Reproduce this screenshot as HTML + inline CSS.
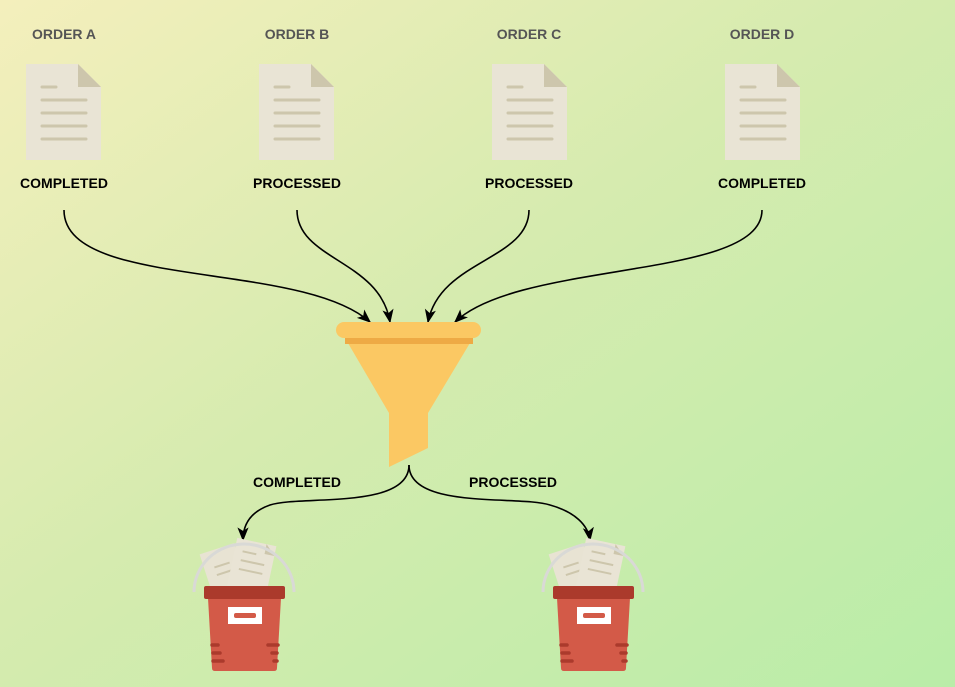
<!DOCTYPE html>
<html><head><meta charset="utf-8"><style>
html,body{margin:0;padding:0;width:955px;height:687px;overflow:hidden}
svg{display:block}
.t{font-family:"Comic Sans MS","Liberation Sans",sans-serif;font-weight:bold;font-size:14px;text-anchor:middle}
.g{fill:#555}
.k{fill:#000}
</style></head><body>
<svg width="955" height="687" viewBox="0 0 955 687" xmlns="http://www.w3.org/2000/svg">
<defs>
<linearGradient id="bg" x1="0" y1="0" x2="1" y2="1">
<stop offset="0" stop-color="#f4efbc"/>
<stop offset="0.45" stop-color="#d6ebaf"/>
<stop offset="1" stop-color="#b9eda8"/>
</linearGradient>
<marker id="ar" viewBox="0 0 10 10" refX="9" refY="5" markerWidth="14" markerHeight="14" orient="auto-start-reverse" markerUnits="userSpaceOnUse">
<path d="M0,1 L10,5 L0,9 L2.5,5 z" fill="#000"/>
</marker>
<g id="doc">
<path d="M0,0 H52 L75,23 V96 H0 z" fill="#e9e4d5"/>
<path d="M52,0 L75,23 H52 z" fill="#cdc6ac"/>
<g stroke="#cdc6ac" stroke-width="3" stroke-linecap="round">
<line x1="16" y1="23" x2="30" y2="23"/>
<line x1="16" y1="36" x2="60" y2="36"/>
<line x1="16" y1="49" x2="60" y2="49"/>
<line x1="16" y1="62" x2="60" y2="62"/>
<line x1="16" y1="75" x2="60" y2="75"/>
</g>
</g>
<g id="bucket">
<g transform="rotate(-18 18 565)"><rect x="0" y="548" width="36" height="44" fill="#e8e3d3"/><line x1="10" y1="565" x2="26" y2="565" stroke="#cdc6ac" stroke-width="2"/><line x1="10" y1="573" x2="26" y2="573" stroke="#cdc6ac" stroke-width="2"/></g>
<g transform="rotate(12 50 565)"><rect x="28" y="542" width="40" height="50" fill="#e9e4d5"/><path d="M58,542 L68,552 H58z" fill="#cdc6ac"/><g stroke="#cdc6ac" stroke-width="2"><line x1="36" y1="554" x2="50" y2="554"/><line x1="36" y1="563" x2="60" y2="563"/><line x1="36" y1="572" x2="60" y2="572"/></g></g>
<path d="M-10,592 A50,48 0 0 1 90,592" fill="none" stroke="#d9d9d6" stroke-width="3"/>
<path d="M4,598 H77 L73,668 Q73,671 70,671 H11 Q8,671 8,668 z" fill="#d35a48"/>
<rect x="0" y="586" width="81" height="13" rx="2" fill="#ab3a2c"/>
<rect x="24" y="607" width="34" height="17" fill="#fff"/>
<rect x="30" y="613" width="22" height="5" rx="2" fill="#d35a48"/>
<g stroke="#ab3a2c" stroke-width="3.5" stroke-linecap="round">
<line x1="8" y1="645" x2="14" y2="645"/><line x1="9" y1="653" x2="16" y2="653"/><line x1="9" y1="661" x2="19" y2="661"/>
<line x1="64" y1="645" x2="74" y2="645"/><line x1="68" y1="653" x2="73" y2="653"/><line x1="70" y1="661" x2="73" y2="661"/>
</g>
</g>
</defs>
<rect width="955" height="687" fill="url(#bg)"/>

<text class="t g" x="64" y="39">ORDER A</text>
<text class="t g" x="297" y="39">ORDER B</text>
<text class="t g" x="529" y="39">ORDER C</text>
<text class="t g" x="762" y="39">ORDER D</text>

<use href="#doc" x="26" y="64"/>
<use href="#doc" x="259" y="64"/>
<use href="#doc" x="492" y="64"/>
<use href="#doc" x="725" y="64"/>

<text class="t k" x="64" y="188">COMPLETED</text>
<text class="t k" x="297" y="188">PROCESSED</text>
<text class="t k" x="529" y="188">PROCESSED</text>
<text class="t k" x="762" y="188">COMPLETED</text>

<g fill="none" stroke="#000" stroke-width="1.6" marker-end="url(#ar)">
<path d="M64,210 C64,290 300,260 370,322"/>
<path d="M297,210 C297,260 380,260 390,322"/>
<path d="M529,210 C529,260 440,260 428,322"/>
<path d="M762,210 C762,280 520,260 455,322"/>
<path d="M409,465 C409,510 300,495 270,505 C250,512 243,525 243,540"/>
<path d="M409,465 C409,510 520,495 550,505 C575,512 588,525 590,540"/>
</g>

<text class="t k" x="297" y="487">COMPLETED</text>
<text class="t k" x="513" y="487">PROCESSED</text>

<path d="M345,338 H473 L428,413 V448 L389,467 V413 z" fill="#fbc863"/>
<rect x="345" y="338" width="128" height="6" fill="#eeaa45"/>
<rect x="336" y="322" width="145" height="16" rx="8" fill="#fbc863"/>

<use href="#bucket" x="204" y="0"/>
<use href="#bucket" x="553" y="0"/>
</svg>
</body></html>
